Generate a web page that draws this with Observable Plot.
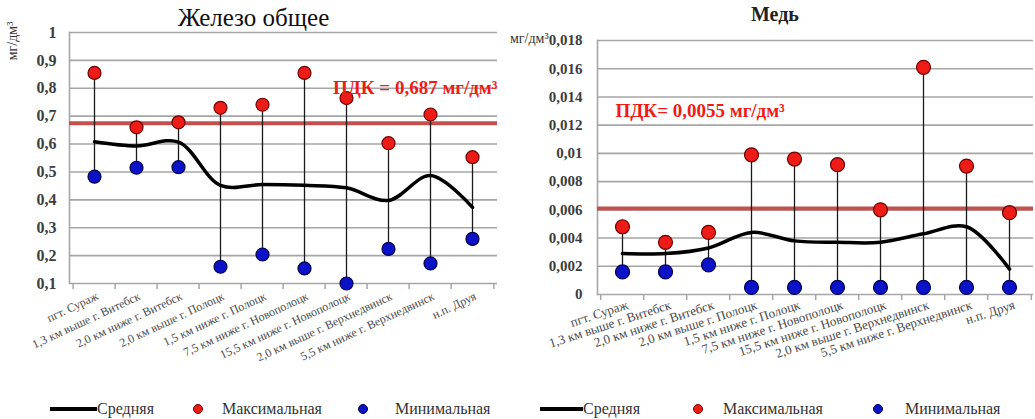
<!DOCTYPE html>
<html>
<head>
<meta charset="utf-8">
<script src="https://cdn.jsdelivr.net/npm/d3@7"></script>
<script src="https://cdn.jsdelivr.net/npm/@observablehq/plot@0.6"></script>
<style>
  html, body { margin: 0; padding: 0; background: #fff; }
  #wrap { position: relative; width: 1035px; height: 419px; overflow: hidden; font-family: "Liberation Serif", "DejaVu Serif", serif; }
  .abs { position: absolute; white-space: nowrap; }
  .plot { position: absolute; top: 0; }
  .leg { position: absolute; font-size: 16px; color: #333; line-height: 16px; white-space: nowrap; }
  .legline { position: absolute; height: 4px; background: #000; }
  .legdot { position: absolute; width: 10px; height: 10px; border-radius: 50%; box-sizing: border-box; }
</style>
</head>
<body>
<div id="wrap"></div>
<script>
const categories = [
  "пгт. Сураж",
  "1,3 км выше г. Витебск",
  "2,0 км ниже г. Витебск",
  "2,0 км выше г. Полоцк",
  "1,5 км ниже г. Полоцк",
  "7,5 км ниже г. Новополоцк",
  "15,5 км ниже г. Новополоцк",
  "2,0 км выше г. Верхнедвинск",
  "5,5 км ниже г. Верхнедвинск",
  "н.п. Друя"
];

// Железо общее, мг/дм³
const feMax  = [0.855, 0.660, 0.678, 0.730, 0.741, 0.855, 0.765, 0.603, 0.706, 0.553];
const feMin  = [0.483, 0.515, 0.517, 0.160, 0.204, 0.154, 0.100, 0.224, 0.172, 0.260];
const feMean = [0.608, 0.593, 0.607, 0.452, 0.455, 0.452, 0.443, 0.398, 0.487, 0.373];
const fePdkLine = 0.675;
const fePdkLabel = "ПДК = 0,687 мг/дм³";
const feTicks = [0.1, 0.2, 0.3, 0.4, 0.5, 0.6, 0.7, 0.8, 0.9, 1];

// Медь, мг/дм³
const cuMax  = [0.0048, 0.0037, 0.0044, 0.0099, 0.0096, 0.0092, 0.0060, 0.0161, 0.0091, 0.0058];
const cuMin  = [0.0016, 0.0016, 0.0021, 0.0005, 0.0005, 0.0005, 0.0005, 0.0005, 0.0005, 0.0005];
const cuMean = [0.0029, 0.0029, 0.0033, 0.0044, 0.0038, 0.0037, 0.0037, 0.0043, 0.0048, 0.0018];
const cuPdkLine = 0.0061;
const cuPdkLabel = "ПДК= 0,0055 мг/дм³";
const cuTicks = [0, 0.002, 0.004, 0.006, 0.008, 0.01, 0.012, 0.014, 0.016, 0.018];

const titles = ["Железо общее", "Медь"];
const unitLabel = "мг/дм³";
const legendLabels = ["Средняя", "Максимальная", "Минимальная"];

const RED = "#ee1c16", RED_STROKE = "#6e0000";
const BLUE = "#0b12c8", BLUE_STROKE = "#00004a";
const PDK = "#c4504e";
const GRID = "#a6a6a6";

function rows(maxA, minA, meanA) {
  return categories.map((c, i) => ({cat: c, max: maxA[i], min: minA[i], mean: meanA[i]}));
}

function fmt(d, p) { return String(+d.toFixed(p)).replace(".", ","); }

function chart(o) {
  const data = rows(o.max, o.min, o.mean);
  const step = (o.width - o.ml - o.mr) / categories.length;
  return Plot.plot({
    width: o.width, height: 419,
    marginLeft: o.ml, marginRight: o.mr, marginTop: o.mt, marginBottom: o.mb,
    style: {fontFamily: "'Liberation Serif', serif", background: "transparent", overflow: "visible"},
    x: {type: "point", domain: categories, padding: 0.5, align: 0.5},
    y: {domain: o.domain},
    marks: [
      Plot.gridY(o.ticks, {stroke: GRID, strokeOpacity: 1, strokeWidth: 1.6}),
      Plot.frame({anchor: "left", stroke: GRID, strokeWidth: 1.6}),
      Plot.axisY(o.ticks, {tickSize: 0, tickPadding: o.tickPad, tickFormat: d => fmt(d, o.prec),
        fontSize: o.yFont, fill: "#3d3d3d", fontWeight: "bold", label: null}),
      Plot.axisX(categories, {tickSize: 6, text: null, dx: -step / 2, stroke: GRID, strokeWidth: 1.5, label: null}),
      Plot.axisX([categories[categories.length - 1]], {tickSize: 6, text: null, dx: step / 2, stroke: GRID, strokeWidth: 1.5, label: null}),
      Plot.axisX(categories, {tickSize: 0, tickPadding: o.xPad, tickRotate: o.rot, fontSize: o.xFont,
        fill: "#4a4a4a", label: null, dx: o.xdx}),
      Plot.ruleY([o.pdk], {stroke: PDK, strokeWidth: 4}),
      Plot.ruleX(data, {x: "cat", y1: "min", y2: "max", stroke: "#1a1a1a", strokeWidth: 1.3}),
      Plot.line(data, {x: "cat", y: "mean", curve: "catmull-rom", stroke: "#000", strokeWidth: 3.5}),
      Plot.dot(data, {x: "cat", y: "max", r: o.r, fill: RED, stroke: RED_STROKE, strokeWidth: 1.2}),
      Plot.dot(data, {x: "cat", y: "min", r: o.r, fill: BLUE, stroke: BLUE_STROKE, strokeWidth: 1.2}),
      Plot.text([o.pdkLabel], {frameAnchor: o.lblAnchor, dx: o.lblDx, dy: o.lblDy, text: d => d,
        textAnchor: o.lblTextAnchor, fontSize: 19, fontWeight: "bold", fill: RED})
    ]
  });
}

const wrap = document.getElementById("wrap");

const left = chart({
  width: 517, ml: 69, mr: 20, mt: 32, mb: 136,
  domain: [0.1, 1], ticks: feTicks, prec: 1, tickPad: 13, yFont: 16,
  rot: -25, xFont: 12, xPad: 12, xdx: 3, r: 6.5,
  max: feMax, min: feMin, mean: feMean, pdk: fePdkLine, pdkLabel: fePdkLabel,
  lblAnchor: "top-right", lblDx: 0, lblDy: 48, lblTextAnchor: "end"
});
left.classList.add("plot");
left.style.left = "0px";
wrap.appendChild(left);

const right = chart({
  width: 518, ml: 80, mr: 2, mt: 40, mb: 125,
  domain: [0, 0.018], ticks: cuTicks, prec: 3, tickPad: 15, yFont: 15,
  rot: -18, xFont: 13, xPad: 10, xdx: 5, r: 7,
  max: cuMax, min: cuMin, mean: cuMean, pdk: cuPdkLine, pdkLabel: cuPdkLabel,
  lblAnchor: "top-left", lblDx: 18, lblDy: 63, lblTextAnchor: "start"
});
right.classList.add("plot");
right.style.left = "517px";
wrap.appendChild(right);

function addText(txt, css) {
  const d = document.createElement("div");
  d.className = "abs";
  d.textContent = txt;
  Object.assign(d.style, css);
  wrap.appendChild(d);
  return d;
}

// titles
addText(titles[0], {left: "178px", top: "4px", fontSize: "25px", color: "#111"});
addText(titles[1], {left: "751px", top: "3px", fontSize: "20px", fontWeight: "bold", color: "#222"});
// unit labels
addText(unitLabel, {left: "-6px", top: "33px", fontSize: "14px", color: "#333", transform: "rotate(-90deg)", transformOrigin: "center"});
addText(unitLabel, {left: "510px", top: "31px", fontSize: "14px", color: "#333"});

// legends
function legend(x0, xLineEnd, xText1, xDot1, xText2, xDot2, xText3, y) {
  const ln = document.createElement("div");
  ln.className = "legline";
  Object.assign(ln.style, {left: x0 + "px", width: (xLineEnd - x0) + "px", top: (y - 2) + "px"});
  wrap.appendChild(ln);
  const mk = (x, fill, stroke) => {
    const d = document.createElement("div");
    d.className = "legdot";
    Object.assign(d.style, {left: (x - 5) + "px", top: (y - 5) + "px", background: fill, border: "1.2px solid " + stroke});
    wrap.appendChild(d);
  };
  mk(xDot1, RED, RED_STROKE);
  mk(xDot2, BLUE, BLUE_STROKE);
  [[xText1, legendLabels[0]], [xText2, legendLabels[1]], [xText3, legendLabels[2]]].forEach(([x, t]) => {
    const d = document.createElement("div");
    d.className = "leg";
    d.textContent = t;
    Object.assign(d.style, {left: x + "px", top: (y - 8) + "px"});
    wrap.appendChild(d);
  });
}
legend(50, 97, 97, 198, 222, 363, 395, 409);
legend(540, 583, 583, 698, 723, 878, 905, 409);
</script>
</body>
</html>
